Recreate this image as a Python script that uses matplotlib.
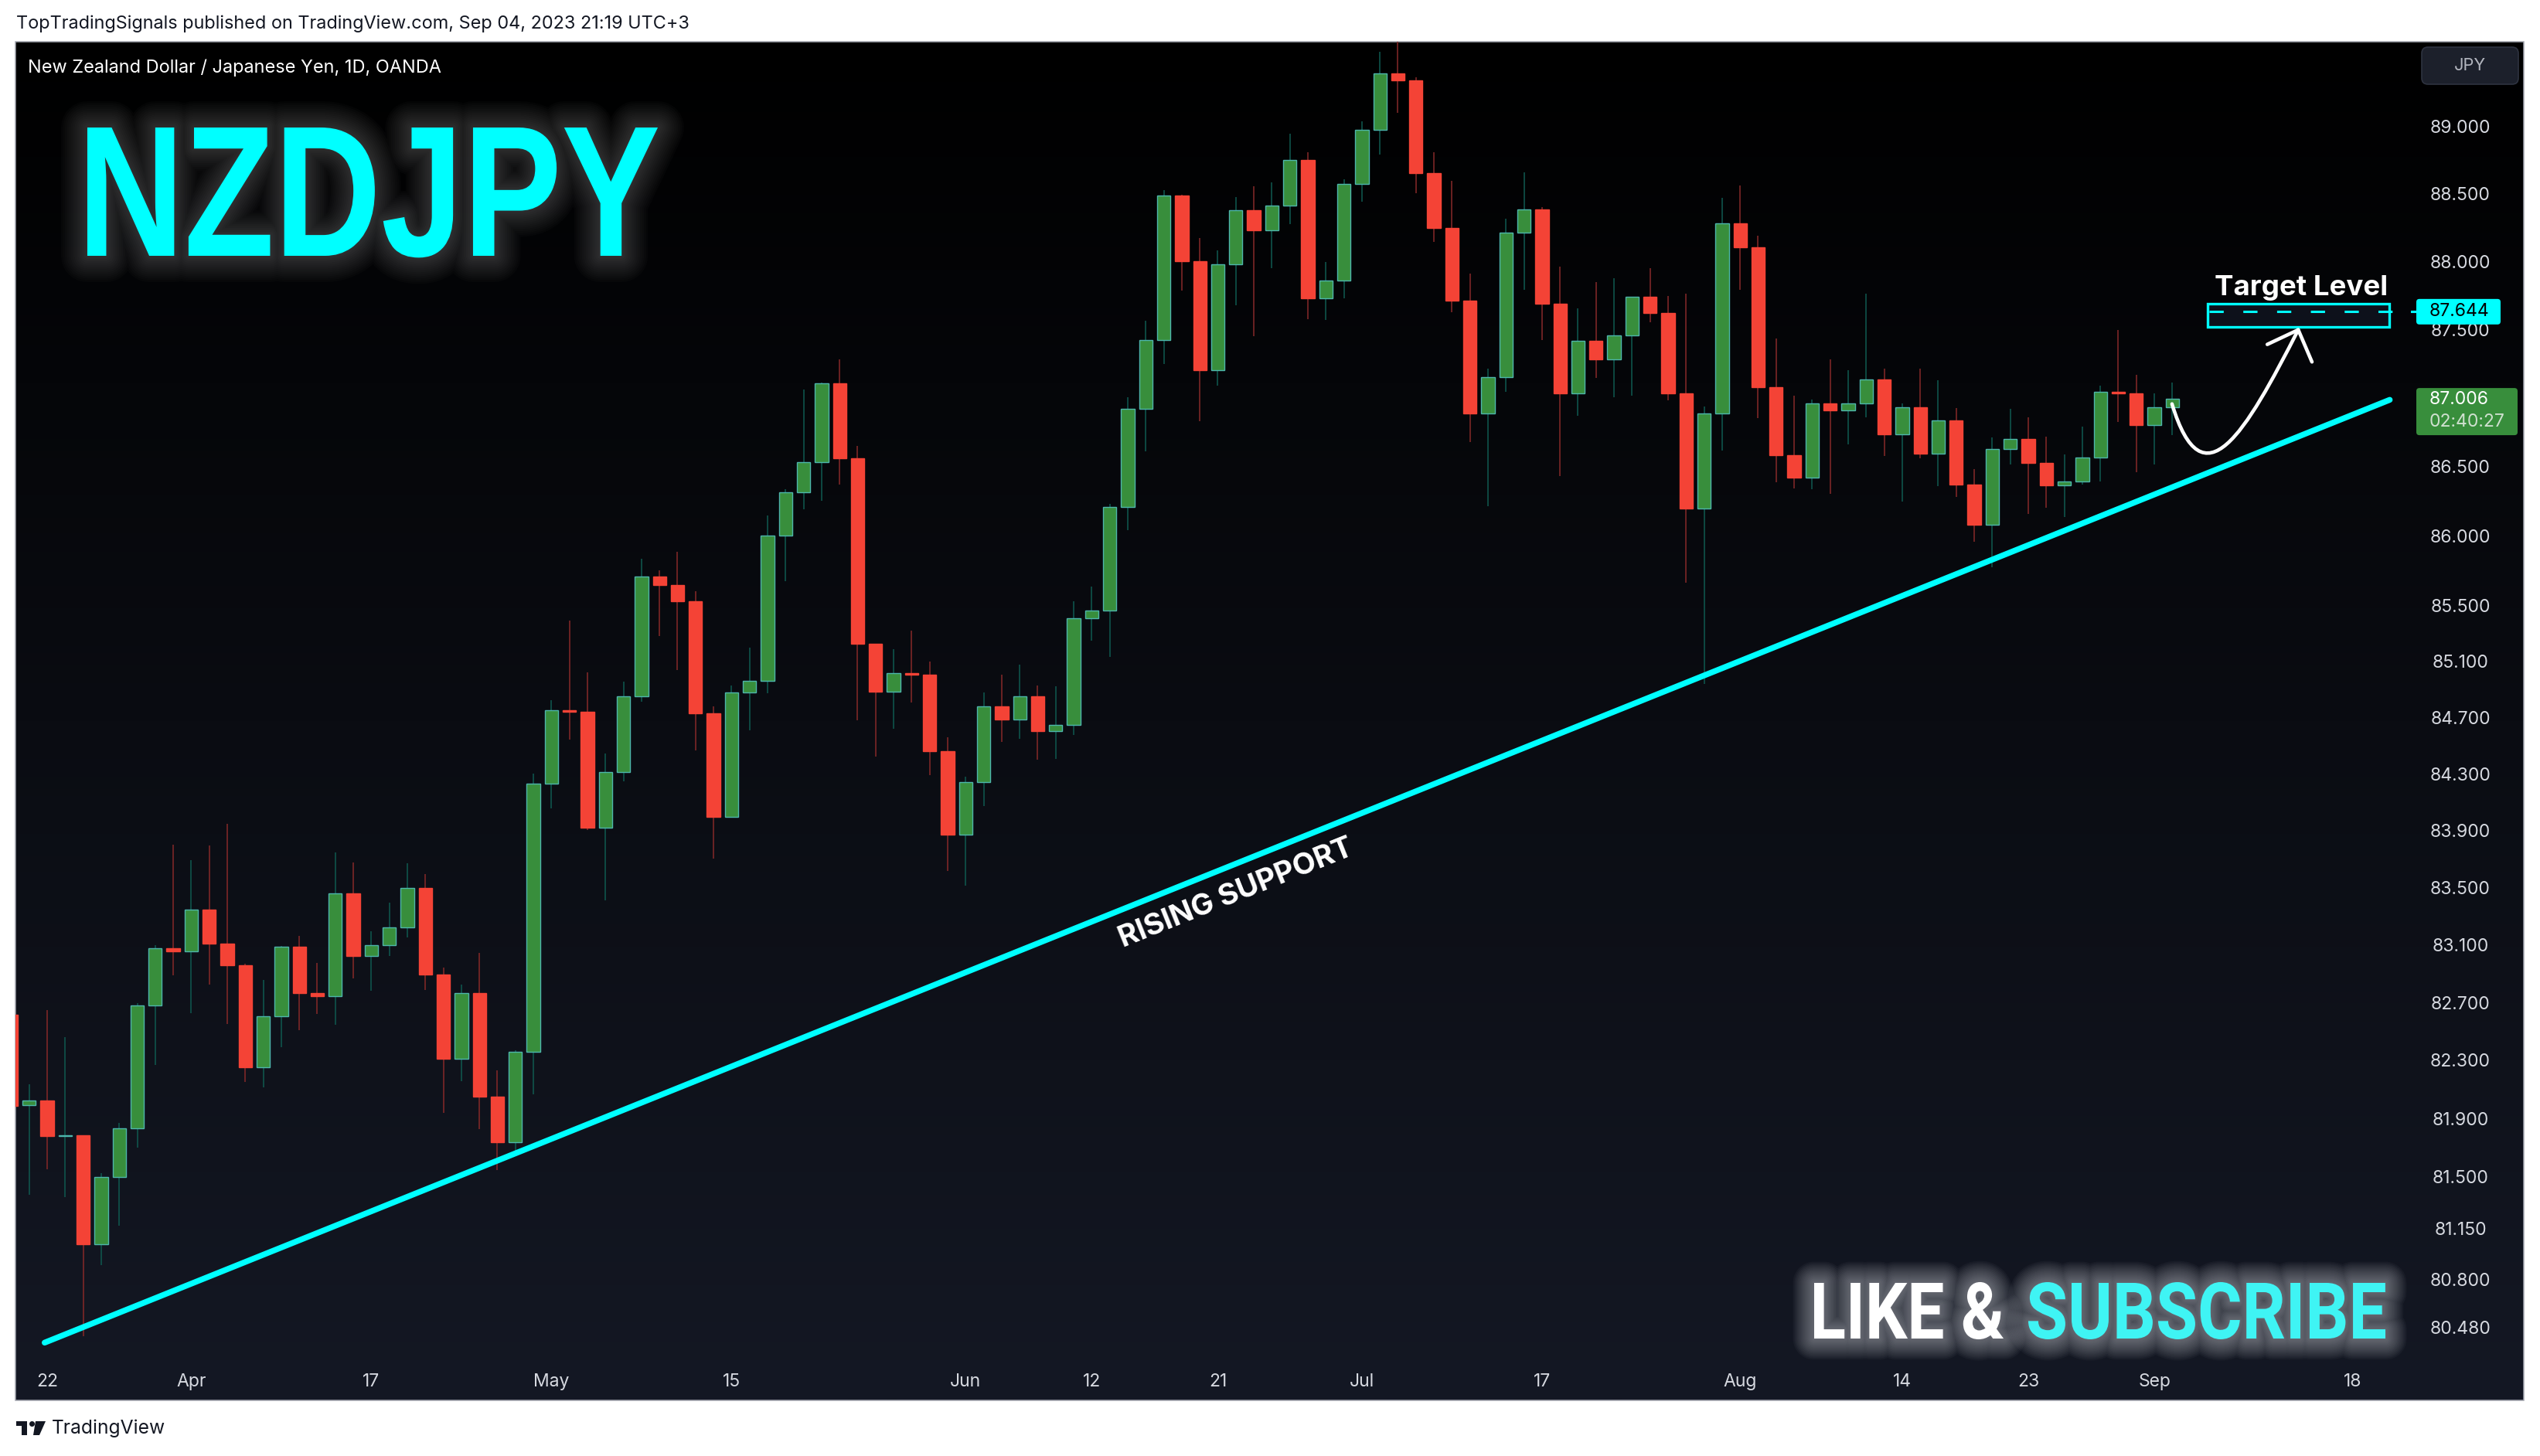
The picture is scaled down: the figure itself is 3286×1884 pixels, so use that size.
import numpy as np
import pandas as pd
import matplotlib
matplotlib.use("Agg")
import matplotlib.pyplot as plt
from matplotlib.patches import Rectangle, FancyBboxPatch, PathPatch, Polygon, Circle
from matplotlib.path import Path
from matplotlib.textpath import TextPath
from matplotlib.font_manager import FontProperties
from matplotlib.transforms import Affine2D, IdentityTransform

# NZDJPY daily, OANDA (20 Mar .. 4 Sep 2023)
start_day = "2023-03-20"
opens = [82.629, 82.005, 82.035, 81.790, 81.795, 81.056, 81.514, 81.843, 82.695, 83.091,
         83.070, 83.357, 83.124, 82.973, 82.267, 82.619, 83.099, 82.779, 82.758, 83.471,
         83.038, 83.113, 83.237, 83.513, 82.909, 82.326, 82.777, 82.061, 81.748, 82.373,
         84.244, 84.764, 84.755, 83.932, 84.325, 84.866, 85.718, 85.661, 85.540, 84.744,
         84.012, 84.891, 84.971, 86.014, 86.327, 86.547, 87.121, 86.573, 85.237, 84.896,
         85.030, 85.020, 84.474, 83.887, 84.257, 84.792, 84.696, 84.865, 84.614, 84.658,
         85.422, 85.474, 86.222, 86.931, 87.435, 88.503, 88.018, 87.213, 87.992, 88.391,
         88.246, 88.429, 88.763, 87.740, 87.874, 88.586, 88.993, 89.415, 89.358, 88.666,
         88.263, 87.728, 86.901, 87.163, 88.226, 88.401, 87.704, 87.044, 87.428, 87.297,
         87.468, 87.751, 87.636, 87.044, 86.211, 86.899, 88.293, 88.117, 87.094, 86.594,
         86.433, 86.974, 86.920, 86.972, 87.148, 86.746, 86.946, 86.605, 86.850, 86.381,
         86.090, 86.639, 86.715, 86.541, 86.376, 86.407, 86.580, 87.060, 87.045, 86.813,
         86.946]
highs = [82.750, 82.150, 82.658, 82.473, 81.800, 81.539, 81.880, 82.707, 83.112, 83.814,
         83.706, 83.809, 83.960, 82.985, 82.868, 83.106, 83.176, 82.989, 83.758, 83.687,
         83.206, 83.410, 83.683, 83.609, 82.956, 82.836, 83.060, 82.244, 82.385, 84.315,
         84.838, 85.402, 85.036, 84.457, 84.967, 85.847, 85.765, 85.897, 85.614, 84.790,
         84.943, 85.210, 86.159, 86.348, 87.074, 87.125, 87.294, 86.666, 85.240, 85.201,
         85.331, 85.111, 84.573, 84.296, 84.890, 85.020, 85.091, 84.943, 84.934, 85.542,
         85.647, 86.243, 87.016, 87.579, 88.539, 88.510, 88.186, 88.095, 88.489, 88.569,
         88.598, 88.961, 88.823, 88.010, 88.620, 89.054, 89.577, 89.660, 89.382, 88.823,
         88.611, 87.926, 87.229, 88.330, 88.674, 88.414, 87.974, 87.670, 87.861, 87.889,
         87.751, 87.964, 87.758, 87.776, 86.952, 88.485, 88.576, 88.202, 87.447, 87.029,
         87.002, 87.295, 87.215, 87.779, 87.225, 86.971, 87.224, 87.140, 86.937, 86.493,
         86.725, 86.933, 86.871, 86.730, 86.599, 86.803, 87.102, 87.507, 87.182, 87.045,
         87.125]
lows = [81.950, 81.392, 81.563, 81.373, 80.432, 80.913, 81.179, 81.712, 82.283, 82.903,
        82.640, 82.840, 82.566, 82.166, 82.126, 82.404, 82.519, 82.636, 82.561, 82.882,
        82.796, 83.035, 83.166, 82.802, 81.950, 82.167, 81.842, 81.561, 81.665, 82.079,
        84.070, 84.554, 83.920, 83.425, 84.262, 84.826, 85.296, 85.053, 84.482, 83.718,
        84.005, 84.622, 84.885, 85.686, 86.203, 86.264, 86.385, 84.691, 84.438, 84.631,
        84.821, 84.304, 83.628, 83.526, 84.085, 84.541, 84.559, 84.412, 84.417, 84.588,
        85.260, 85.143, 86.053, 86.625, 87.263, 87.802, 86.843, 87.104, 87.692, 87.467,
        87.967, 88.291, 87.591, 87.583, 87.742, 88.456, 88.806, 89.117, 88.521, 88.159,
        87.639, 86.693, 86.229, 87.057, 87.804, 87.437, 86.445, 86.882, 87.158, 87.019,
        87.027, 87.569, 86.997, 85.677, 84.950, 86.630, 87.804, 86.865, 86.398, 86.353,
        86.348, 86.316, 86.677, 86.869, 86.589, 86.258, 86.575, 86.370, 86.292, 85.972,
        85.785, 86.530, 86.170, 86.217, 86.146, 86.381, 86.403, 86.839, 86.474, 86.530,
        86.744]
closes = [82.000, 82.035, 81.790, 81.795, 81.056, 81.514, 81.843, 82.695, 83.091, 83.070,
          83.357, 83.124, 82.973, 82.267, 82.619, 83.099, 82.779, 82.758, 83.471, 83.038,
          83.113, 83.237, 83.513, 82.909, 82.326, 82.777, 82.061, 81.748, 82.373, 84.244,
          84.764, 84.755, 83.932, 84.325, 84.866, 85.718, 85.661, 85.540, 84.744, 84.012,
          84.891, 84.971, 86.014, 86.327, 86.547, 87.121, 86.573, 85.237, 84.896, 85.026,
          85.020, 84.474, 83.887, 84.257, 84.792, 84.696, 84.865, 84.614, 84.658, 85.422,
          85.474, 86.222, 86.931, 87.435, 88.503, 88.018, 87.213, 87.992, 88.391, 88.246,
          88.429, 88.763, 87.740, 87.874, 88.586, 88.993, 89.415, 89.358, 88.666, 88.263,
          87.728, 86.901, 87.163, 88.226, 88.401, 87.704, 87.044, 87.428, 87.297, 87.468,
          87.751, 87.636, 87.044, 86.211, 86.899, 88.293, 88.117, 87.094, 86.594, 86.433,
          86.974, 86.920, 86.972, 87.148, 86.746, 86.946, 86.605, 86.850, 86.381, 86.090,
          86.639, 86.715, 86.541, 86.376, 86.407, 86.580, 87.060, 87.045, 86.813, 86.946,
          87.006]

price_ticks = [89.0, 88.5, 88.0, 87.5, 86.5, 86.0, 85.5, 85.1, 84.7, 84.3, 83.9, 83.5,
               83.1, 82.7, 82.3, 81.9, 81.5, 81.15, 80.8, 80.48]
date_ticks = ["2023-03-22", "2023-04-03", "2023-04-17", "2023-05-01", "2023-05-15",
              "2023-06-01", "2023-06-12", "2023-06-21", "2023-07-03", "2023-07-17",
              "2023-08-01", "2023-08-14", "2023-08-23", "2023-09-01", "2023-09-18"]
date_labels = ["22", "Apr", "17", "May", "15", "Jun", "12", "21", "Jul", "17",
               "Aug", "14", "23", "Sep", "18"]

# drawings on the chart (bar index, price)
support_x = [1.86, 132.07]
support_y = [80.388, 86.999]
target_price = 87.644
target_box_x = [121.96, 132.05]
target_box_y = [87.531, 87.701]
arrow_x = [119.98, 121.70, 124.06, 126.99]
arrow_y = [86.969, 86.226, 86.759, 87.511]
head_x = [125.27, 126.99, 127.75]
head_y = [87.404, 87.511, 87.276]
timer = "02:40:27"

W, H = 3286, 1884
CYAN = "#00ffff"
UI = "Inter"

fig = plt.figure(figsize=(W / 100, H / 100), dpi=100)
fig.patch.set_facecolor("white")


def px_axes(z):
    a = fig.add_axes([0, 0, 1, 1], zorder=z)
    a.set_xlim(0, W)
    a.set_ylim(H, 0)
    a.axis("off")
    a.patch.set_alpha(0)
    return a


bg = px_axes(0)
ax = fig.add_axes([20 / W, 1 - 1812 / H, (3122 - 20) / W, (1812 - 54) / H], zorder=1)
ov = px_axes(2)

# dark pane with vertical gradient
g = np.linspace(0, 1, 256)[:, None, None]
top_c = np.array([0, 0, 0]) / 255
bot_c = np.array([20, 24, 36]) / 255
grad = top_c * (1 - g) + bot_c * g
bg.imshow(grad, extent=(20, 3265, 1812, 54), aspect="auto", interpolation="bilinear", zorder=0)
bg.add_patch(Rectangle((20, 54), 3245, 1758, fill=False, ec="#a3a6af", lw=1.1, zorder=1))

# price pane
o = np.array(opens); h = np.array(highs); l = np.array(lows); c = np.array(closes)
x = np.arange(len(o))
up = c >= o
ax.set_yscale("log")
ax.set_ylim(80.0, 89.65)
ax.set_xlim(0.2403, 133.374)
ax.axis("off")
ax.patch.set_alpha(0)

ax.vlines(x[up], l[up], h[up], color="#0f574e", lw=1.15, zorder=2)
ax.vlines(x[~up], l[~up], h[~up], color="#822828", lw=1.15, zorder=2)
ax.bar(x[up], (c - o)[up], bottom=o[up], width=0.743, color="#388e3c",
       edgecolor="#4db6ac", lw=1.0, zorder=3)
ax.bar(x[~up], (o - c)[~up], bottom=c[~up], width=0.743, color="#f44336",
       edgecolor="#f44336", lw=1.0, zorder=3)

ax.plot(support_x, support_y, color=CYAN, lw=5.4, solid_capstyle="round", zorder=4)

# target level box + dashed level
ax.add_patch(Rectangle((target_box_x[0], target_box_y[0]), target_box_x[1] - target_box_x[0],
                       target_box_y[1] - target_box_y[0], fc="#0d111b", ec=CYAN, lw=2.4, zorder=4))
ax.plot([target_box_x[0] + 0.1, 133.54], [target_price, target_price], color=CYAN, lw=2.2,
        dashes=(6, 8.3), clip_on=False, zorder=5)

# hand-drawn arrow
arrow = Path(list(zip(arrow_x, arrow_y)), [Path.MOVETO, Path.CURVE4, Path.CURVE4, Path.CURVE4])
ax.add_patch(PathPatch(arrow, fc="none", ec="white", lw=3.3, capstyle="round", zorder=5))
ax.plot(head_x, head_y, color="white", lw=3.3, solid_capstyle="round",
        solid_joinstyle="round", zorder=5)

renderer = fig.canvas.get_renderer()


def fit(t, w):
    bb = t.get_window_extent(renderer)
    t.set_fontsize(t.get_fontsize() * w / bb.width)
    return t


def py(p):
    return H - ax.transData.transform((1, p))[1]


def px(i):
    return ax.transData.transform((i, 85))[0]


# "RISING SUPPORT" label, sitting just under the line
(x0d, y0d), (x1d, y1d) = ax.transData.transform(list(zip(support_x, support_y)))
ang = np.degrees(np.arctan2(y1d - y0d, x1d - x0d))
cx = 1586.0
cy = y0d + (cx - x0d) * (y1d - y0d) / (x1d - x0d)
nx, ny = -np.sin(np.radians(ang)), np.cos(np.radians(ang))
t = ax.text(cx - nx * 36, cy - ny * 36, "RISING SUPPORT", color="white", fontsize=20,
            fontweight="bold", family=UI, transform=IdentityTransform(),
            ha="center", va="center", zorder=6)
fit(t, 325)
t.set_rotation(ang)
t.set_rotation_mode("anchor")

# header / footer
fit(ov.text(21, 37.5, "TopTradingSignals published on TradingView.com, Sep 04, 2023 21:19 UTC+3",
            color="#131722", family=UI, fontsize=15, va="baseline"), 873)
fit(ov.text(36, 94, "New Zealand Dollar / Japanese Yen, 1D, OANDA", color="white",
            family=UI, fontsize=15, va="baseline"), 536)
fit(ov.text(67, 1855, "TradingView", color="#131722", family=UI, fontsize=14,
            va="baseline"), 147)
ov.add_patch(Rectangle((21, 1839), 14, 6, fc="#131722", ec="none"))
ov.add_patch(Rectangle((28, 1839), 7, 18, fc="#131722", ec="none"))
ov.add_patch(Circle((41.5, 1842.5), 3.5, fc="#131722", ec="none"))
ov.add_patch(Polygon([(46, 1839), (59, 1839), (51, 1857), (43, 1857)], fc="#131722", ec="none"))


def glow_text(s, x_left, x_right, top, base, face, glow, alpha, family, weight, spread):
    fp = FontProperties(family=family, weight=weight)
    tp = TextPath((0, 0), s, size=100, prop=fp)
    bb = tp.get_extents()
    cap = TextPath((0, 0), "H", size=100, prop=fp).get_extents().height
    tr = Affine2D().translate(-bb.x0, 0).scale((x_right - x_left) / bb.width,
                                                -(base - top) / cap).translate(x_left, base)
    path = tr.transform_path(tp)
    for k in range(14):
        lw = 3 + k * spread
        ov.add_patch(PathPatch(path, fc="none", ec=glow, lw=lw * 0.72, alpha=alpha,
                               joinstyle="round", capstyle="round", zorder=3))
    ov.add_patch(PathPatch(path, fc=face, ec="none", zorder=4))


glow_text("NZDJPY", 113, 851, 165, 331, CYAN, "#b0b0b0", 0.022, "Liberation Sans", "bold", 5)
glow_text("LIKE &", 2347, 2592, 1660, 1732, "white", "#d8dae0", 0.04, "Roboto", "bold", 4)
glow_text("SUBSCRIBE", 2624, 3086, 1660, 1732, "#3ff4f4", "#d8dae0", 0.04, "Roboto", "bold", 4)

fit(ov.text(2977, 382, "Target Level", color="white", family=UI, fontweight="bold",
            fontsize=24, ha="center", va="baseline", zorder=6), 225)

# price scale
ref = ov.text(0, 0, "88.000", family=UI, fontsize=16)
fit(ref, 79)
fs = ref.get_fontsize()
ref.remove()
for p in price_ticks:
    ov.text(3183, py(p), f"{p:.3f}", color="#d6d9e0", family=UI, fontsize=fs,
            ha="center", va="center", zorder=5)

yt = py(target_price)
ov.plot([3120, 3127], [yt, yt], color=CYAN, lw=2.2, zorder=6)
ov.add_patch(FancyBboxPatch((3126, yt - 16.5), 109, 33, boxstyle="round,pad=0,rounding_size=4",
                            fc=CYAN, ec="none", zorder=6))
ov.text(3143, yt, f"{target_price:.3f}", color="black", family=UI, fontsize=fs,
        ha="left", va="center", zorder=7)

yc = py(closes[-1])
ov.add_patch(FancyBboxPatch((3126, yc - 14), 131, 61, boxstyle="round,pad=0,rounding_size=4",
                            fc="#388e3c", ec="none", zorder=6))
ov.text(3143, yc + 1, f"{closes[-1]:.3f}", color="white", family=UI, fontsize=fs,
        ha="left", va="center", zorder=7)
ov.text(3143, yc + 30, timer, color="#cfe0cf", family=UI, fontsize=fs,
        ha="left", va="center", zorder=7)

ov.add_patch(FancyBboxPatch((3133, 61), 125, 48, boxstyle="round,pad=0,rounding_size=8",
                            fc="#1c202b", ec="#2e3340", lw=1.2, zorder=5))
ov.text(3195.5, 85, "JPY", color="#b2b5be", family=UI, fontsize=fs * 0.95,
        ha="center", va="center", zorder=6)

# time scale
days = pd.bdate_range(start_day, periods=160)
for d, lab in zip(pd.to_datetime(date_ticks), date_labels):
    ov.text(px(days.get_loc(d)), 1788, lab, color="#d6d9e0", family=UI, fontsize=fs,
            ha="center", va="center", zorder=5)

fig.savefig("out.png", dpi=100, facecolor="white")
